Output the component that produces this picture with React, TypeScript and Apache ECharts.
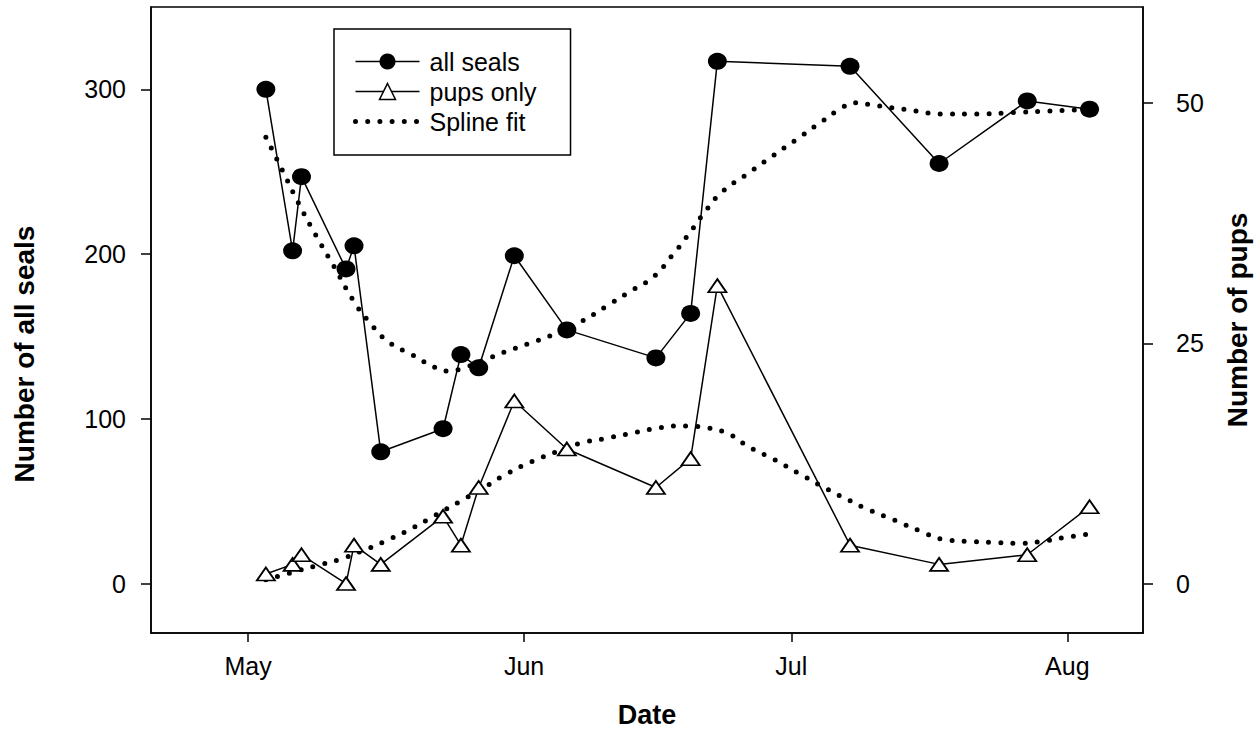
import React, { useEffect, useRef } from "react";
import * as echarts from "echarts";

// Days are counted from May 1 (May 1 = 0)
const MONTH_TICKS = [0, 31, 61, 92];
const MONTH_LABELS = ["May", "Jun", "Jul", "Aug"];
const SEAL_TICKS = [0, 100, 200, 300];
const PUP_TICKS = [0, 25, 50];

const SURVEY_DAYS = [2.0, 5.0, 6.0, 11.0, 11.9, 14.9, 21.9, 23.9, 25.9, 29.9, 35.8, 45.8, 49.7, 52.7, 67.6, 77.6, 87.5, 94.5];
const SEAL_COUNTS = [300, 202, 247, 191, 205, 80, 94, 139, 131, 199, 154, 137, 164, 317, 314, 255, 293, 288];
const PUP_COUNTS = [1, 2, 3, 0, 4, 2, 7, 4, 10, 19, 14, 10, 13, 31, 4, 2, 3, 8];

const SEAL_SPLINE_DAYS = [2.0, 3.8, 5.6, 7.6, 9.7, 11.8, 13.6, 15.7, 18.4, 21.1, 22.4, 23.8, 26.5, 29.2, 31.9, 34.6, 37.4, 40.1, 42.8, 45.5, 47.6, 49.5, 51.3, 53.3, 56.0, 58.7, 61.4, 64.1, 66.9, 68.2, 69.6, 72.3, 75.0, 77.7, 81.8, 85.9, 90.0, 92.7, 94.5];
const SEAL_SPLINE_VALUES = [271, 251.5, 231.6, 211.6, 192, 172, 158.8, 147, 138.9, 131, 129, 130.2, 135.7, 141.3, 146.4, 151.9, 159, 167.9, 177, 186.1, 199, 212.2, 225.6, 238.1, 248.4, 258.8, 268.9, 279.2, 289.5, 291.9, 290.9, 288.9, 286.9, 285.1, 285.1, 285.9, 286.9, 287.5, 288];

const PUP_SPLINE_DAYS = [2.0, 4.7, 7.4, 10.2, 12.8, 15.6, 18.3, 21.0, 23.7, 26.5, 29.2, 31.9, 34.6, 37.3, 40.1, 42.8, 45.5, 48.2, 49.5, 50.9, 53.7, 56.3, 59.1, 61.8, 64.5, 67.2, 69.9, 72.6, 75.4, 78.1, 80.8, 83.5, 86.2, 88.9, 91.7, 94.4];
const PUP_SPLINE_VALUES = [0.4, 1.1, 1.8, 2.5, 3.4, 4.5, 5.7, 7.1, 8.5, 10.0, 11.5, 12.7, 13.7, 14.6, 15.1, 15.6, 16.1, 16.4, 16.4, 16.3, 15.7, 14.2, 12.9, 11.5, 10.1, 8.8, 7.6, 6.6, 5.5, 4.6, 4.4, 4.3, 4.2, 4.35, 4.8, 5.15];

const FONT = "Arial, 'Liberation Sans', Helvetica, sans-serif";
const DOTS = [0, 12.2];

const zip = (xs: number[], ys: number[]) => xs.map((x, i) => [x, ys[i]]);

export default function App() {
  const ref = useRef<HTMLDivElement>(null);

  useEffect(() => {
    document.body.style.margin = "0";
    if (!ref.current) return;
    const chart = echarts.init(ref.current, null, { renderer: "svg" });

    const labelStyle = { color: "#000", fontSize: 25, fontFamily: FONT };
    const axisLine = { show: true, onZero: false, lineStyle: { color: "#000", width: 1.5 } };
    const tickStyle = { color: "#000", width: 1.5 };

    chart.setOption({
      animation: false,
      backgroundColor: "#fff",
      grid: {
        left: 151,
        top: 7,
        right: 117,
        bottom: 103,
        show: true,
        borderColor: "#000",
        borderWidth: 1.5,
        containLabel: false,
        outerBoundsMode: "none",
      },
      legend: {
        show: true,
        orient: "vertical",
        left: 334,
        top: 29,
        padding: [20, 34, 21, 19],
        itemWidth: 64,
        itemHeight: 20,
        itemGap: 5,
        borderColor: "#000",
        borderWidth: 1.5,
        backgroundColor: "#fff",
        selectedMode: false,
        textStyle: { color: "#000", fontSize: 25, fontFamily: FONT, lineHeight: 25, padding: [0, 0, 0, 5] },
        data: [
          { name: "all seals", itemStyle: { color: "#000", borderWidth: 0 }, lineStyle: { color: "#000", width: 1.5, type: "solid" } },
          { name: "pups only", itemStyle: { color: "#fff", borderColor: "#000", borderWidth: 1.5 }, lineStyle: { color: "#000", width: 1.5, type: "solid" } },
          {
            name: "Spline fit",
            itemStyle: { color: "rgba(0,0,0,0)", borderColor: "rgba(0,0,0,0)", borderWidth: 0, opacity: 0 },
            lineStyle: { color: "#000", width: 5, type: DOTS, cap: "round" },
          },
        ],
      },
      graphic: [
        {
          type: "text",
          x: 24,
          y: 354,
          rotation: Math.PI / 2,
          style: {
            text: "Number of all seals",
            fontSize: 28,
            fontWeight: "bold",
            fontFamily: FONT,
            fill: "#000",
            align: "center",
            verticalAlign: "middle",
            textAlign: "center",
            textVerticalAlign: "middle",
          },
        },
      ],
      xAxis: {
        type: "value",
        min: -10.9,
        max: 100.5,
        axisLine,
        axisTick: { show: true, customValues: MONTH_TICKS, length: 9, lineStyle: tickStyle },
        axisLabel: {
          ...labelStyle,
          customValues: MONTH_TICKS,
          margin: 20,
          formatter: (v: number) => {
            const i = MONTH_TICKS.indexOf(Math.round(v));
            return i >= 0 ? MONTH_LABELS[i] : "";
          },
        },
        splitLine: { show: false },
        name: "Date",
        nameLocation: "middle",
        nameGap: 68,
        nameTextStyle: { color: "#000", fontSize: 27, fontWeight: "bold", fontFamily: FONT },
      },
      yAxis: [
        {
          type: "value",
          position: "left",
          min: -30,
          max: 350,
          axisLine,
          axisTick: { show: true, customValues: SEAL_TICKS, length: 10, lineStyle: tickStyle },
          axisLabel: { ...labelStyle, customValues: SEAL_TICKS, margin: 25 },
          splitLine: { show: false },
        },
        {
          type: "value",
          position: "right",
          min: -5.14,
          max: 60,
          axisLine,
          axisTick: { show: true, customValues: PUP_TICKS, length: 10, lineStyle: tickStyle },
          axisLabel: { ...labelStyle, customValues: PUP_TICKS, margin: 33 },
          splitLine: { show: false },
          name: "Number of pups",
          nameLocation: "middle",
          nameGap: 80,
          nameTextStyle: { color: "#000", fontSize: 28, fontWeight: "bold", fontFamily: FONT },
        },
      ],
      series: [
        {
          name: "Spline fit",
          type: "line",
          yAxisIndex: 0,
          data: zip(SEAL_SPLINE_DAYS, SEAL_SPLINE_VALUES),
          symbol: "none",
          smooth: true,
          z: 1,
          lineStyle: { color: "#000", width: 5, type: DOTS, cap: "round" },
          itemStyle: { color: "#000" },
        },
        {
          name: "Spline fit",
          type: "line",
          yAxisIndex: 1,
          data: zip(PUP_SPLINE_DAYS, PUP_SPLINE_VALUES),
          symbol: "none",
          smooth: true,
          z: 1,
          lineStyle: { color: "#000", width: 5, type: DOTS, cap: "round" },
          itemStyle: { color: "#000" },
        },
        {
          name: "all seals",
          type: "line",
          yAxisIndex: 0,
          data: zip(SURVEY_DAYS, SEAL_COUNTS),
          symbol: "circle",
          symbolSize: [19, 17],
          z: 3,
          lineStyle: { color: "#000", width: 1.5 },
          itemStyle: { color: "#000" },
        },
        {
          name: "pups only",
          type: "line",
          yAxisIndex: 1,
          data: zip(SURVEY_DAYS, PUP_COUNTS),
          symbol: "triangle",
          symbolSize: [18, 13],
          z: 4,
          lineStyle: { color: "#000", width: 1.5 },
          itemStyle: { color: "#fff", borderColor: "#000", borderWidth: 1.8 },
        },
      ],
    });

    return () => chart.dispose();
  }, []);

  return <div ref={ref} style={{ width: 1260, height: 736 }} />;
}
